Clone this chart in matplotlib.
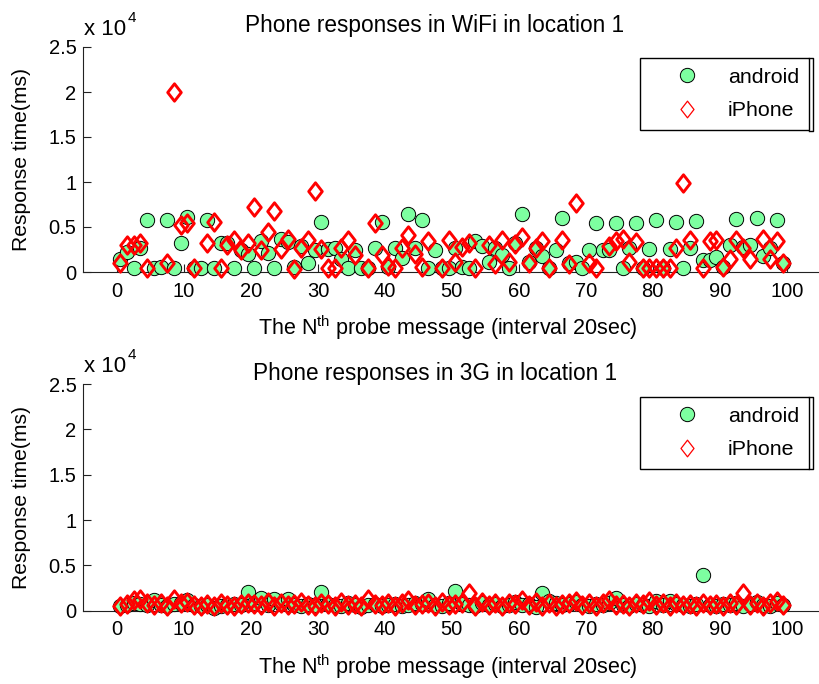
import numpy as np
import matplotlib
matplotlib.use("Agg")
import matplotlib.pyplot as plt
from matplotlib.path import Path
from matplotlib.lines import Line2D

plt.rcParams["font.family"] = ["Liberation Sans", "DejaVu Sans"]
plt.rcParams["mathtext.fontset"] = "custom"
plt.rcParams["mathtext.rm"] = "Liberation Sans"
plt.rcParams["mathtext.it"] = "Liberation Sans:italic"
plt.rcParams["font.size"] = 14.5

nan = np.nan

# probe message number (one every 20 s)
probe = np.arange(100)

# response times (ms), WiFi, location 1
wifi_android = [
    1400, 2200, 500, 2700, 5800, 500, 600, 5800, 500, 3200,
    6100, 400, 500, 5800, 500, 3200, 3200, 500, 2500, 2000,
    500, 3400, 2100, 500, 3700, 3300, 600, 2900, 1000, 2500,
    5600, 2600, 2700, 1500, 500, 2500, 500, 500, 2700, 5600,
    600, 2700, 1600, 6400, 2700, 5800, 500, 2500, 500, 500,
    2700, 600, 500, 3400, 2900, 1100, 2700, 1900, 500, 3200,
    6400, 1100, 2700, 1800, 500, 2500, 6000, 1000, 1100, 500,
    2500, 5400, 2500, 2500, 5400, 500, 2700, 5400, 500, 2600,
    5800, 500, 2600, 5600, 500, 2700, 5700, 1300, 1300, 1700,
    600, 3000, 5900, 2800, 3000, 6000, 1800, 2700, 5800, 1000,
]
wifi_iphone = [
    1000, 3000, 3000, 3200, 400, nan, nan, 1000, 20000, 5200,
    5500, 400, nan, 3200, 5600, 400, 3000, 3600, 2500, 3200,
    7200, 2400, 4400, 6800, 2600, 3700, 300, 2700, 3600, 9000,
    2600, 500, 500, 2700, 3600, 1900, nan, 500, 5400, 1900,
    700, 400, 2700, 4100, 2000, 600, 3500, nan, 500, 3600,
    1100, 2800, 3200, 400, nan, 3000, 900, 3600, 1100, 3100,
    3900, 1000, 2700, 3500, 400, nan, 3600, 900, 7700, nan,
    1000, 400, nan, 2900, 3500, 3700, 1100, 3300, 400, 500,
    500, 500, 500, 2700, 9900, 3600, nan, 500, 3400, 3600,
    600, 1500, 3600, 2700, 1500, nan, 3700, 1500, 3500, 1000,
]

# response times (ms), 3G, location 1
g3_android = [
    500, 600, 800, 700, 600, 1200, 600, 500, 700, 900,
    1200, 600, 500, 600, 300, 500, 600, 700, 600, 2100,
    800, 1400, 600, 1250, 700, 1250, 600, 500, 700, 600,
    2100, 700, 600, 500, 800, 600, 400, 600, 700, 500,
    600, 700, 500, 600, 800, 700, 1300, 600, 500, 800,
    2200, 700, 600, 500, 800, 600, 700, 500, 600, 1000,
    600, 700, 400, 1900, 1100, 800, 600, 700, 1000, 600,
    500, 700, 600, 800, 1400, 600, 500, 700, 600, 500,
    1100, 600, 1100, 700, 600, 500, 700, 3900, 600, 500,
    700, 600, 850, 500, 700, 1000, 600, 500, 800, 600,
]
g3_iphone = [
    500, 700, 1200, 1300, 800, 600, 900, 500, 1300, 800,
    1000, 600, 500, 700, 500, 800, 600, 500, 700, 900,
    700, 600, 1000, 500, 900, 600, 700, 1000, 600, 500,
    900, 700, 500, 1000, 600, 700, 500, 1300, 700, 600,
    900, 500, 800, 1200, 600, 700, 900, 500, 1000, 600,
    700, 800, 2000, 500, 1000, 600, 800, 500, 900, 700,
    1200, 600, 1000, 500, 800, 500, 700, 900, 1100, 600,
    800, 500, 900, 1200, 600, 700, 500, 800, 700, 1100,
    600, 800, 500, 900, 600, 700, 500, 800, 600, 700,
    500, 800, 600, 2000, 600, 900, 500, 800, 1100, 600,
]

titles = ["Phone responses in WiFi in location 1", "Phone responses in 3G in location 1"]
series = [(wifi_android, wifi_iphone), (g3_android, g3_iphone)]
labels = ["android", "iPhone"]
xticks = np.arange(0, 101, 10)
yticks = np.arange(0, 25001, 5000)
ytick_labels = ["0", "0.5", "1", "1.5", "2", "2.5"]

GREEN = "#7DFFA0"
RED = "#FF0000"
diamond = Path([(0, 1), (0.78, 0), (0, -1), (-0.78, 0), (0, 1)],
               [Path.MOVETO, Path.LINETO, Path.LINETO, Path.LINETO, Path.CLOSEPOLY])

W, H = 820, 684
fig = plt.figure(figsize=(W / 100, H / 100), dpi=100)

# axes boxes in pixels: (left, top, right, bottom)
boxes = [(83.5, 47, 820.2, 272), (83.5, 384, 820.2, 610.7)]
title_base = [32, 380]
legend_top = [58, 397]
legend_bottom = [131, 469]

for i, (l, t, r, b) in enumerate(boxes):
    ax = fig.add_axes([l / W, 1 - b / H, (r - l) / W, (b - t) / H])
    a_vals, i_vals = series[i]
    x = probe + 0.5
    ax.plot(x, np.array(a_vals, float), ls="none", marker="o", ms=10.3,
            mfc=GREEN, mec="black", mew=0.7, clip_on=False, zorder=3)
    ax.plot(x, np.array(i_vals, float), ls="none", marker=diamond, ms=12.5,
            mfc="none", mec=RED, mew=2.1, clip_on=False, zorder=4)

    ax.set_xlim(-5, 105)
    ax.set_ylim(0, 25000)
    ax.set_xticks(xticks)
    ax.set_yticks(yticks)
    ax.set_yticklabels(ytick_labels)
    for s in ("top", "right"):
        ax.spines[s].set_visible(False)
    for s in ("left", "bottom"):
        ax.spines[s].set_color("#222222")
        ax.spines[s].set_linewidth(0.8)
    ax.tick_params(direction="in", length=5.5, width=0.8, color="#222222")
    ax.tick_params(axis="x", pad=7)
    ax.tick_params(axis="y", pad=5)

    ax.set_title(titles[i], x=0.477, y=(b - title_base[i]) / (b - t), pad=0, fontsize=16.3)
    ax.set_xlabel(r"The N$^{\mathrm{th}}$ probe message (interval 20sec)",
                  va="baseline", fontsize=15.5)
    ax.xaxis.set_label_coords(0.495, -63 / (b - t))
    ax.set_ylabel("Response time(ms)", va="center", fontsize=15.2)
    ax.yaxis.set_label_coords((22 - l) / (r - l), 0.5)

    # axis multiplier
    fig.text(84 / W, 1 - (t - 12) / H, "x 10", ha="left", va="baseline", fontsize=16)
    fig.text(128 / W, 1 - (t - 25) / H, "4", ha="left", va="baseline", fontsize=11)

    handles = [
        Line2D([], [], ls="none", marker="o", ms=10.3, mfc=GREEN, mec="black", mew=0.7),
        Line2D([], [], ls="none", marker=diamond, ms=12, mfc="none", mec=RED, mew=0.9),
    ]
    leg = ax.legend(handles, labels, loc="upper right",
                    bbox_to_anchor=(809 / W, 1 - legend_top[i] / H),
                    bbox_transform=fig.transFigure, frameon=True, fancybox=False,
                    borderpad=0.45, handlelength=3.45, handletextpad=0.2,
                    labelspacing=0.68, borderaxespad=0, numpoints=1,
                    prop={"size": 15.4})
    frame = leg.get_frame()
    frame.set_edgecolor("black")
    frame.set_linewidth(1.0)
    frame.set_alpha(1)

    # small bracket just right of the legend frame
    yt, yb = 1 - legend_top[i] / H, 1 - legend_bottom[i] / H
    fig.add_artist(Line2D([809 / W, 813 / W, 813 / W, 809 / W], [yt, yt, yb, yb],
                          color="black", lw=1.0, transform=fig.transFigure))

fig.savefig("out.png", dpi=100)
